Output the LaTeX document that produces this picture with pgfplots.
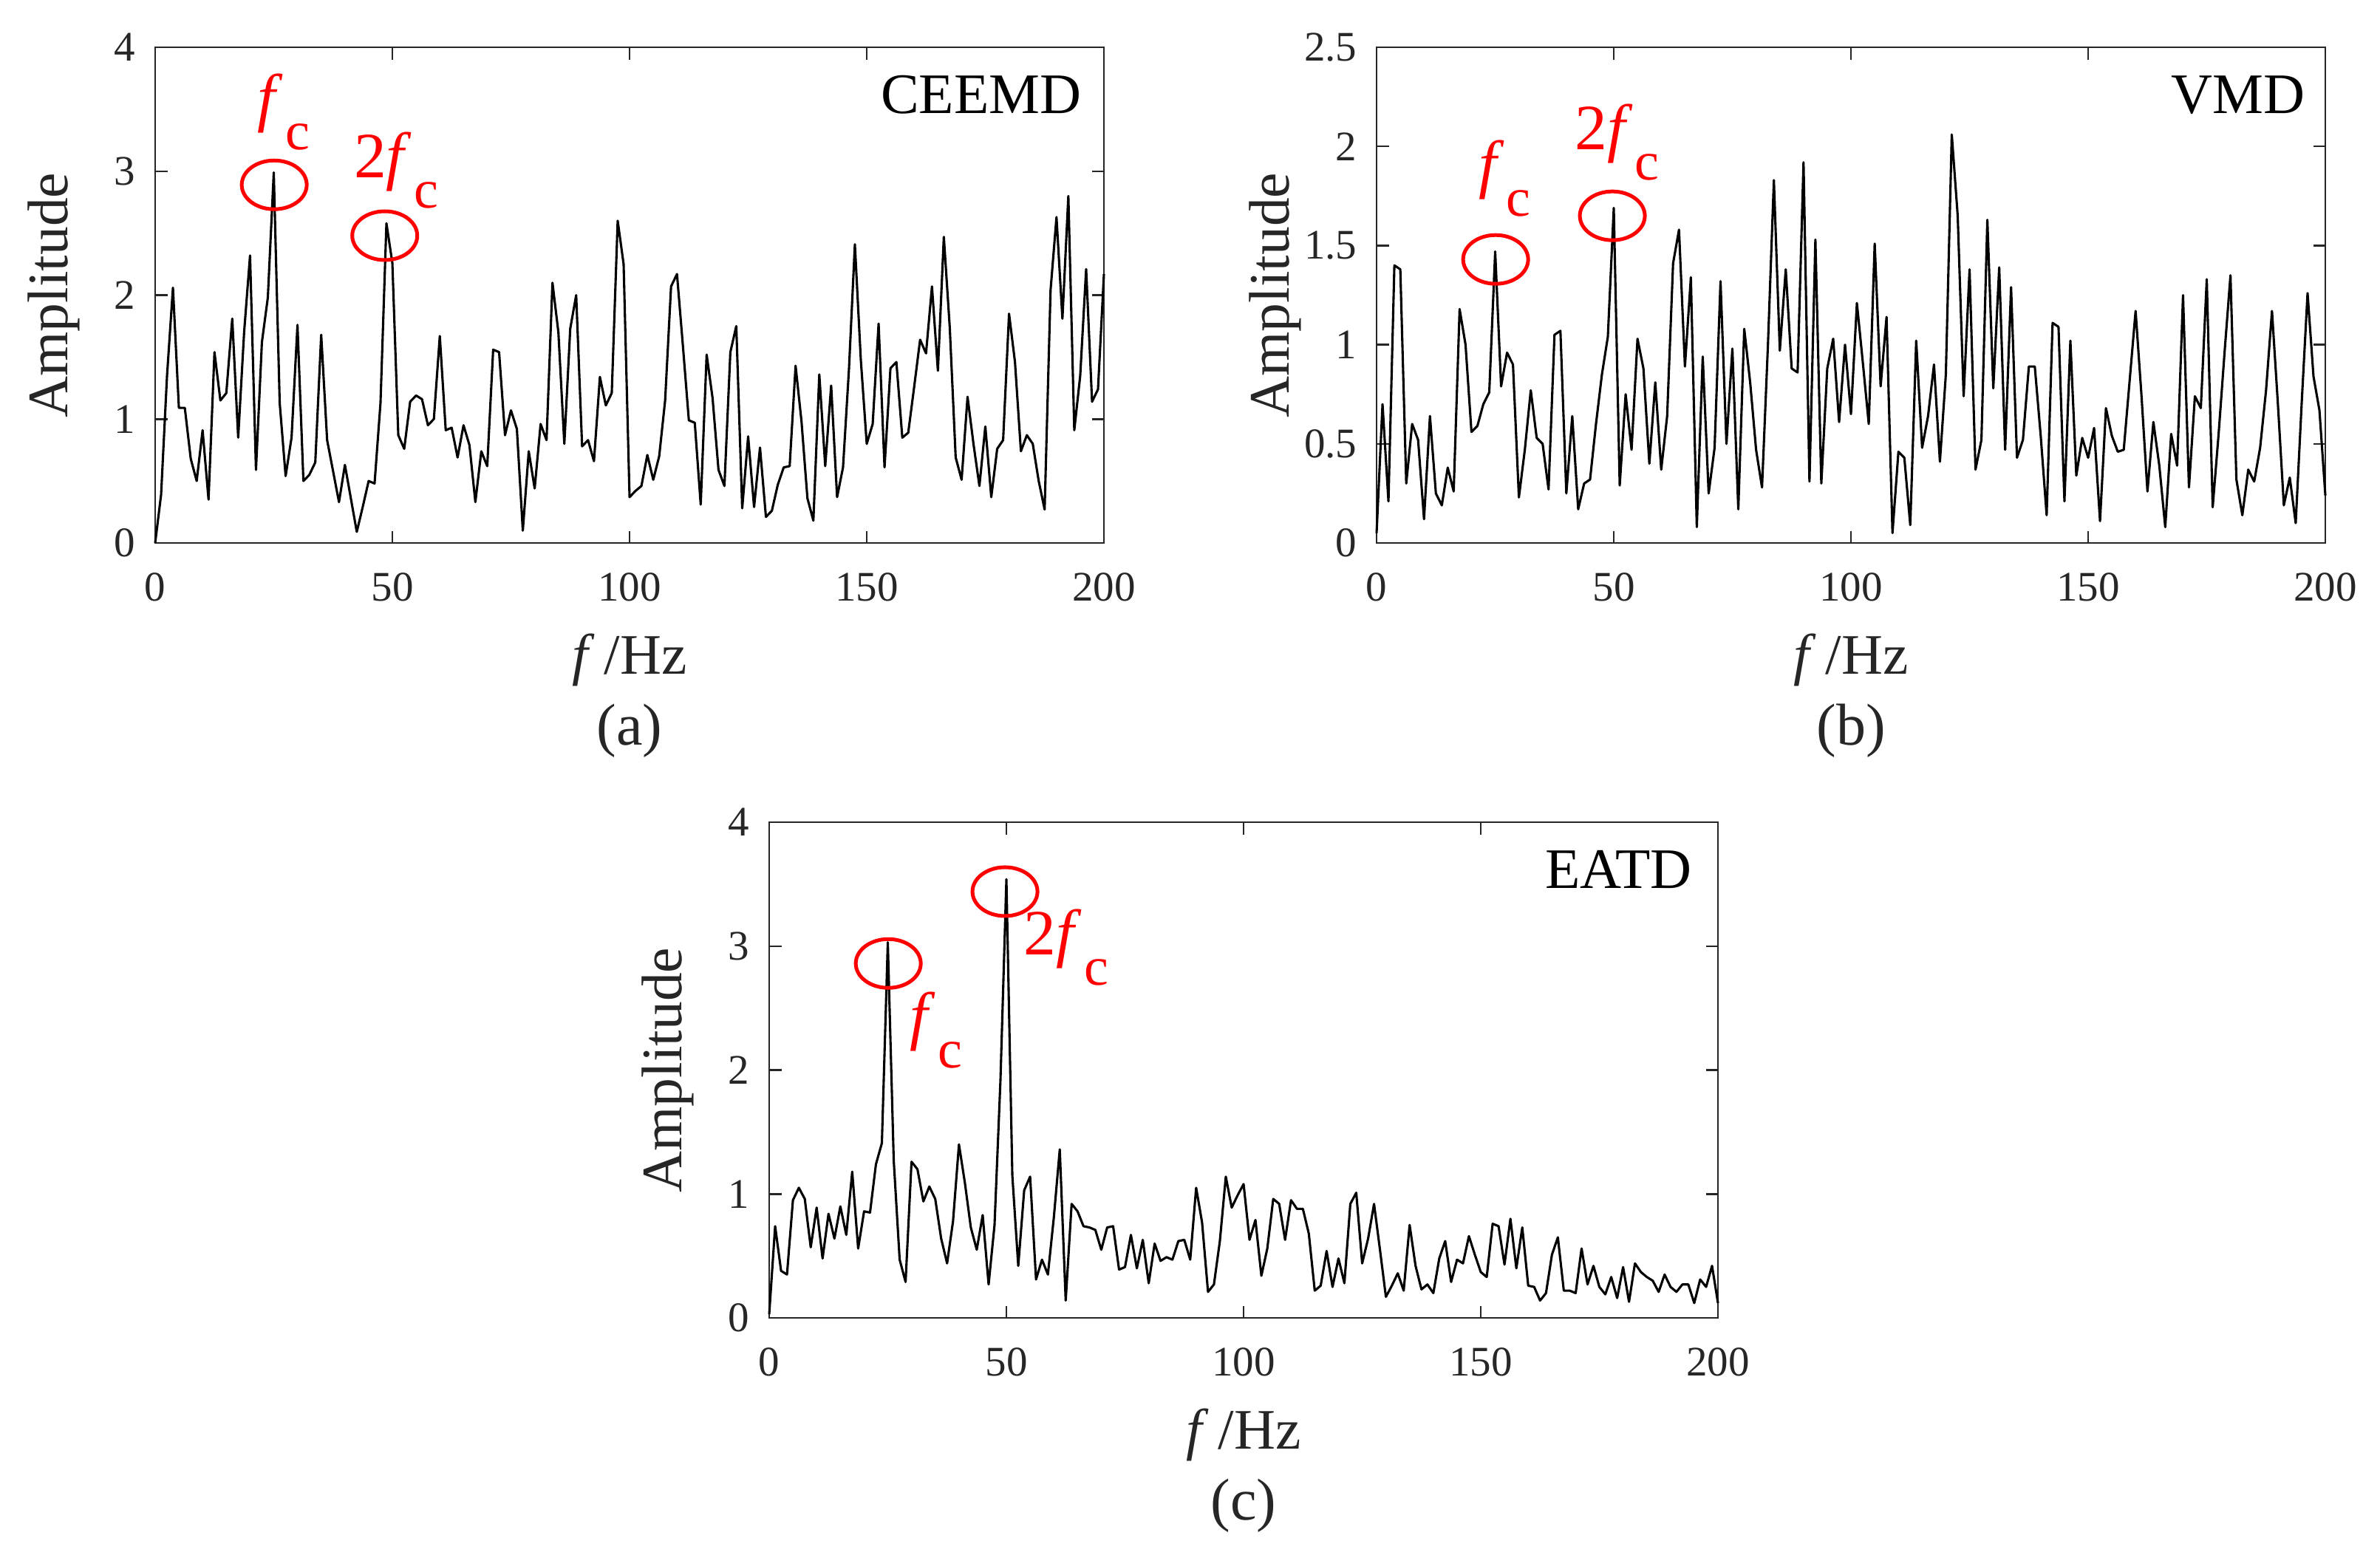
\documentclass[border=0pt]{standalone}
\usepackage{pgfplots}
\pgfplotsset{compat=1.18}
\usepackage{pgfplotstable}
\usepackage{fontspec}
\setmainfont{Liberation Serif}
\definecolor{axgray}{gray}{0.15}

\pgfplotstableread{
x y
0 0
1.25 0.39
2.5 1.35
3.75 2.06
5 1.09
6.25 1.09
7.5 0.68
8.75 0.50
10 0.91
11.25 0.35
12.5 1.54
13.75 1.15
15 1.21
16.25 1.81
17.5 0.85
18.75 1.70
20 2.32
21.25 0.59
22.5 1.62
23.75 1.98
25 2.99
26.25 1.13
27.5 0.54
28.75 0.85
30 1.76
31.25 0.50
32.5 0.55
33.75 0.65
35 1.68
36.25 0.83
37.5 0.58
38.75 0.33
40 0.63
41.25 0.36
42.5 0.09
43.75 0.29
45 0.50
46.25 0.48
47.5 1.13
48.75 2.58
50 2.26
51.25 0.87
52.5 0.76
53.75 1.14
55 1.19
56.25 1.16
57.5 0.95
58.75 1.00
60 1.67
61.25 0.91
62.5 0.93
63.75 0.69
65 0.95
66.25 0.79
67.5 0.33
68.75 0.74
70 0.62
71.25 1.56
72.5 1.54
73.75 0.87
75 1.07
76.25 0.92
77.5 0.10
78.75 0.74
80 0.44
81.25 0.96
82.5 0.83
83.75 2.10
85 1.70
86.25 0.80
87.5 1.73
88.75 2.00
90 0.78
91.25 0.83
92.5 0.66
93.75 1.34
95 1.11
96.25 1.21
97.5 2.60
98.75 2.25
100 0.37
101.25 0.42
102.5 0.46
103.75 0.71
105 0.51
106.25 0.70
107.5 1.15
108.75 2.07
110 2.17
111.25 1.59
112.5 0.99
113.75 0.97
115 0.31
116.25 1.52
117.5 1.17
118.75 0.59
120 0.46
121.25 1.54
122.5 1.75
123.75 0.28
125 0.86
126.25 0.29
127.5 0.77
128.75 0.21
130 0.26
131.25 0.47
132.5 0.61
133.75 0.62
135 1.43
136.25 0.98
137.5 0.36
138.75 0.18
140 1.36
141.25 0.62
142.5 1.27
143.75 0.37
145 0.61
146.25 1.40
147.5 2.41
148.75 1.48
150 0.80
151.25 0.96
152.5 1.77
153.75 0.61
155 1.41
156.25 1.46
157.5 0.85
158.75 0.89
160 1.26
161.25 1.64
162.5 1.53
163.75 2.07
165 1.39
166.25 2.47
167.5 1.74
168.75 0.69
170 0.51
171.25 1.18
172.5 0.80
173.75 0.46
175 0.94
176.25 0.37
177.5 0.76
178.75 0.83
180 1.85
181.25 1.46
182.5 0.74
183.75 0.87
185 0.80
186.25 0.50
187.5 0.27
188.75 2.04
190 2.63
191.25 1.81
192.5 2.80
193.75 0.91
195 1.35
196.25 2.21
197.5 1.14
198.75 1.24
200 2.17
}\dataA

\pgfplotstableread{
x y
0 0.05
1.25 0.70
2.5 0.21
3.75 1.40
5 1.38
6.25 0.30
7.5 0.60
8.75 0.52
10 0.12
11.25 0.64
12.5 0.25
13.75 0.19
15 0.38
16.25 0.26
17.5 1.18
18.75 1.00
20 0.56
21.25 0.59
22.5 0.70
23.75 0.76
25 1.47
26.25 0.79
27.5 0.96
28.75 0.90
30 0.23
31.25 0.47
32.5 0.77
33.75 0.53
35 0.50
36.25 0.27
37.5 1.05
38.75 1.07
40 0.25
41.25 0.64
42.5 0.17
43.75 0.30
45 0.32
46.25 0.60
47.5 0.85
48.75 1.04
50 1.69
51.25 0.29
52.5 0.75
53.75 0.47
55 1.03
56.25 0.88
57.5 0.40
58.75 0.81
60 0.37
61.25 0.64
62.5 1.41
63.75 1.58
65 0.89
66.25 1.34
67.5 0.08
68.75 0.94
70 0.25
71.25 0.48
72.5 1.32
73.75 0.50
75 0.98
76.25 0.17
77.5 1.08
78.75 0.81
80 0.47
81.25 0.28
82.5 1.00
83.75 1.83
85 0.97
86.25 1.38
87.5 0.88
88.75 0.86
90 1.92
91.25 0.31
92.5 1.53
93.75 0.30
95 0.88
96.25 1.03
97.5 0.61
98.75 1.00
100 0.65
101.25 1.21
102.5 0.91
103.75 0.60
105 1.51
106.25 0.79
107.5 1.14
108.75 0.05
110 0.46
111.25 0.43
112.5 0.09
113.75 1.02
115 0.48
116.25 0.64
117.5 0.90
118.75 0.41
120 0.85
121.25 2.06
122.5 1.65
123.75 0.74
125 1.38
126.25 0.37
127.5 0.52
128.75 1.63
130 0.78
131.25 1.39
132.5 0.47
133.75 1.29
135 0.43
136.25 0.52
137.5 0.89
138.75 0.89
140 0.54
141.25 0.14
142.5 1.11
143.75 1.09
145 0.21
146.25 1.02
147.5 0.34
148.75 0.53
150 0.43
151.25 0.58
152.5 0.11
153.75 0.68
155 0.54
156.25 0.46
157.5 0.47
158.75 0.82
160 1.17
161.25 0.74
162.5 0.26
163.75 0.61
165 0.39
166.25 0.08
167.5 0.55
168.75 0.39
170 1.25
171.25 0.28
172.5 0.74
173.75 0.68
175 1.33
176.25 0.18
177.5 0.55
178.75 0.96
180 1.35
181.25 0.32
182.5 0.14
183.75 0.37
185 0.31
186.25 0.48
187.5 0.77
188.75 1.17
190 0.70
191.25 0.19
192.5 0.33
193.75 0.10
195 0.70
196.25 1.26
197.5 0.84
198.75 0.67
200 0.24
}\dataB

\pgfplotstableread{
x y
0 0.03
1.25 0.74
2.5 0.38
3.75 0.35
5 0.95
6.25 1.05
7.5 0.96
8.75 0.57
10 0.89
11.25 0.48
12.5 0.84
13.75 0.64
15 0.90
16.25 0.67
17.5 1.18
18.75 0.56
20 0.86
21.25 0.85
22.5 1.24
23.75 1.41
25 3.03
26.25 1.27
27.5 0.47
28.75 0.29
30 1.26
31.25 1.20
32.5 0.94
33.75 1.06
35 0.96
36.25 0.64
37.5 0.44
38.75 0.78
40 1.40
41.25 1.09
42.5 0.73
43.75 0.55
45 0.83
46.25 0.27
47.5 0.75
48.75 1.92
50 3.54
51.25 1.15
52.5 0.42
53.75 1.03
55 1.14
56.25 0.31
57.5 0.47
58.75 0.35
60 0.81
61.25 1.36
62.5 0.14
63.75 0.92
65 0.86
66.25 0.74
67.5 0.73
68.75 0.71
70 0.55
71.25 0.73
72.5 0.74
73.75 0.39
75 0.41
76.25 0.67
77.5 0.40
78.75 0.63
80 0.28
81.25 0.60
82.5 0.46
83.75 0.49
85 0.47
86.25 0.62
87.5 0.63
88.75 0.47
90 1.05
91.25 0.77
92.5 0.21
93.75 0.27
95 0.62
96.25 1.14
97.5 0.89
98.75 0.99
100 1.08
101.25 0.63
102.5 0.79
103.75 0.34
105 0.56
106.25 0.96
107.5 0.92
108.75 0.63
110 0.95
111.25 0.88
112.5 0.88
113.75 0.68
115 0.22
116.25 0.26
117.5 0.54
118.75 0.25
120 0.48
121.25 0.28
122.5 0.92
123.75 1.01
125 0.44
126.25 0.64
127.5 0.92
128.75 0.55
130 0.17
131.25 0.26
132.5 0.36
133.75 0.22
135 0.75
136.25 0.42
137.5 0.23
138.75 0.27
140 0.20
141.25 0.48
142.5 0.62
143.75 0.29
145 0.47
146.25 0.44
147.5 0.66
148.75 0.51
150 0.37
151.25 0.33
152.5 0.76
153.75 0.74
155 0.43
156.25 0.80
157.5 0.40
158.75 0.73
160 0.26
161.25 0.25
162.5 0.14
163.75 0.20
165 0.51
166.25 0.65
167.5 0.22
168.75 0.22
170 0.20
171.25 0.56
172.5 0.27
173.75 0.42
175 0.25
176.25 0.19
177.5 0.33
178.75 0.16
180 0.41
181.25 0.13
182.5 0.44
183.75 0.37
185 0.33
186.25 0.30
187.5 0.21
188.75 0.35
190 0.25
191.25 0.21
192.5 0.27
193.75 0.27
195 0.12
196.25 0.31
197.5 0.25
198.75 0.42
200 0.12
}\dataC

\newcommand{\fc}{{\fontsize{17.5pt}{17.5pt}\selectfont\textit{f}\kern0.6pt\raisebox{-8.2pt}{\fontsize{14.8pt}{14.8pt}\selectfont c}}}
\newcommand{\twofc}{{\fontsize{17.5pt}{17.5pt}\selectfont 2\textit{f}\kern0.6pt\raisebox{-8.2pt}{\fontsize{14.8pt}{14.8pt}\selectfont c}}}

\pgfplotsset{
  myax/.style={
    scale only axis, width=256.8pt, height=134.2pt,
    anchor=north west, clip=false,
    xmin=0, xmax=200, xtick={0,50,100,150,200},
    axis line style={axgray, line width=0.5pt},
    tick style={axgray, line width=0.5pt},
    tick align=inside, major tick length=3.3pt,
    ticklabel style={font=\fontsize{11.4pt}{11.4pt}\selectfont, text=axgray},
    /pgf/number format/assume math mode=true,
    xticklabel shift=4.5pt, yticklabel shift=1.8pt,
    label style={font=\fontsize{15.5pt}{15.5pt}\selectfont, text=axgray},
    xlabel={\textit{f}\,/Hz},
    ylabel={Amplitude},
    xlabel style={at={(rel axis cs:0.5,-0.2355)}, anchor=center},
    ylabel style={at={(rel axis cs:-0.1067,0.5)}, anchor=center},
  },
  myline/.style={black, line width=0.62pt, mark=none, line join=round},
}
\tikzset{
  circ/.style={red, line width=1.0pt},
  ann/.style={red, inner sep=0pt, anchor=center},
  meth/.style={anchor=base east, inner sep=0pt, font=\fontsize{15.5pt}{15.5pt}\selectfont, text=black},
  sub/.style={anchor=center, inner sep=0pt, font=\fontsize{16pt}{16pt}\selectfont, text=axgray},
}

\begin{document}
\begin{tikzpicture}
\path[use as bounding box] (0,0) rectangle (644.2pt,-420.8pt);

\begin{axis}[myax, at={(42pt,-12.8pt)}, ymin=0, ymax=4, ytick={0,1,2,3,4}]
\addplot[myline] table[x=x,y=y] {\dataA};
\draw[circ] (axis cs:25.1,2.89) ellipse [x radius=8.8pt, y radius=6.6pt];
\draw[circ] (axis cs:48.4,2.48) ellipse [x radius=8.8pt, y radius=6.6pt];
\node[ann] at (axis cs:27.1,3.48) {\fc};
\node[ann] at (axis cs:50.8,3.01) {\twofc};
\node[meth] at (rel axis cs:0.977,0.866) {CEEMD};
\node[sub] at (rel axis cs:0.5,-0.3785) {(a)};
\end{axis}

\begin{axis}[myax, at={(372.6pt,-12.8pt)}, ymin=0, ymax=2.5, ytick={0,0.5,1,1.5,2,2.5}]
\addplot[myline] table[x=x,y=y] {\dataB};
\draw[circ] (axis cs:25.1,1.43) ellipse [x radius=8.8pt, y radius=6.6pt];
\draw[circ] (axis cs:49.7,1.65) ellipse [x radius=8.8pt, y radius=6.6pt];
\node[ann] at (axis cs:27.0,1.84) {\fc};
\node[ann] at (axis cs:50.7,2.02) {\twofc};
\node[meth] at (rel axis cs:0.979,0.866) {VMD};
\node[sub] at (rel axis cs:0.5,-0.3785) {(b)};
\end{axis}

\begin{axis}[myax, at={(208.2pt,-222.6pt)}, ymin=0, ymax=4, ytick={0,1,2,3,4}]
\addplot[myline] table[x=x,y=y] {\dataC};
\draw[circ] (axis cs:25.1,2.86) ellipse [x radius=8.8pt, y radius=6.6pt];
\draw[circ] (axis cs:49.7,3.44) ellipse [x radius=8.8pt, y radius=6.6pt];
\node[ann] at (axis cs:35.2,2.32) {\fc};
\node[ann] at (axis cs:62.6,2.99) {\twofc};
\node[meth] at (rel axis cs:0.973,0.866) {EATD};
\node[sub] at (rel axis cs:0.5,-0.3785) {(c)};
\end{axis}
\end{tikzpicture}
\end{document}
